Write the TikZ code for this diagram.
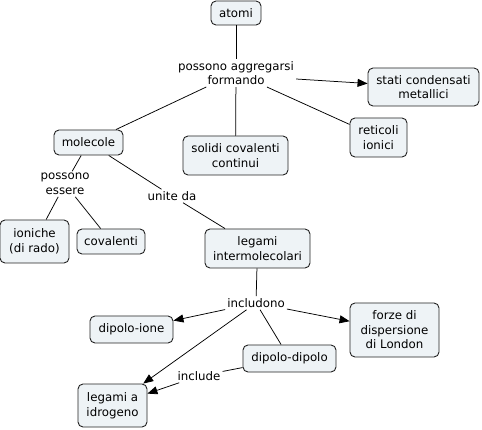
\documentclass[tikz,border=0pt]{standalone}
\usepackage{fontspec}
\setmainfont{DejaVu Sans}
\usetikzlibrary{arrows.meta}
\definecolor{boxfill}{HTML}{EEF3F6}
\definecolor{boxline}{HTML}{222222}
\tikzset{
  concept/.style={draw=boxline, fill=boxfill, rounded corners=5pt, align=center, inner sep=1pt, line width=0.9pt, font=\fontsize{11.8}{14.5}\selectfont},
  lab/.style={align=center, inner sep=2pt, fill=white, font=\fontsize{11.8}{14.5}\selectfont},
  conn/.style={draw=black, line width=0.75pt},
  arr/.style={conn, -{Triangle[length=10pt, width=8pt]}}
}
\begin{document}
\begin{tikzpicture}[x=1pt, y=-1pt]
\useasboundingbox (0,0) rectangle (482,430);
\node[concept, minimum width=50pt, minimum height=24pt] (atomi) at (236,13) {atomi};
\node[lab] (pag) at (236,73) {possono aggregarsi\\formando};
\node[concept, minimum width=111pt, minimum height=38pt] (stati) at (423.5,87) {stati condensati\\metallici};
\node[concept, minimum width=69pt, minimum height=25pt] (mol) at (88.5,142.5) {molecole};
\node[concept, minimum width=105pt, minimum height=39pt] (sol) at (235.5,155.5) {solidi covalenti\\continui};
\node[concept, minimum width=57pt, minimum height=39pt] (ret) at (378.5,137.5) {reticoli\\ionici};
\node[lab] (pe) at (65,184) {possono\\essere};
\node[lab] (ud) at (172,196) {unite da};
\node[concept, minimum width=69pt, minimum height=43pt] (ion) at (34.5,241.5) {ioniche\\(di rado)};
\node[concept, minimum width=68pt, minimum height=25pt] (cov) at (111,241.5) {covalenti};
\node[concept, minimum width=105pt, minimum height=39pt] (li) at (257.5,248.5) {legami\\intermolecolari};
\node[lab] (inc) at (256,303) {includono};
\node[concept, minimum width=83pt, minimum height=27pt] (dion) at (131.5,329.5) {dipolo-ione};
\node[concept, minimum width=89pt, minimum height=54pt] (forze) at (394.5,330) {forze di\\dispersione\\di London};
\node[concept, minimum width=93pt, minimum height=27pt] (ddip) at (289.5,358.5) {dipolo-dipolo};
\node[lab] (incl) at (199,376) {include};
\node[concept, minimum width=69pt, minimum height=43pt] (lid) at (112.5,405.5) {legami a\\idrogeno};

\draw[conn] (atomi) -- (pag);
\draw[arr] (pag.east |- 0,79) -- (stati);
\draw[conn] (pag) -- (mol);
\draw[conn] (pag) -- (sol);
\draw[conn] (pag) -- (ret);
\draw[conn] (mol) -- (pe);
\draw[conn] (pe) -- (ion);
\draw[conn] (pe) -- (cov);
\draw[conn] (mol) -- (ud);
\draw[conn] (ud) -- (li);
\draw[conn] (li) -- (inc);
\draw[arr] (inc) -- (dion);
\draw[arr] (inc) -- (forze);
\draw[conn] (inc) -- (ddip);
\draw[arr] (inc) -- (lid);
\draw[conn] (ddip) -- (incl);
\draw[arr] (incl) -- (lid);
\end{tikzpicture}
\end{document}
